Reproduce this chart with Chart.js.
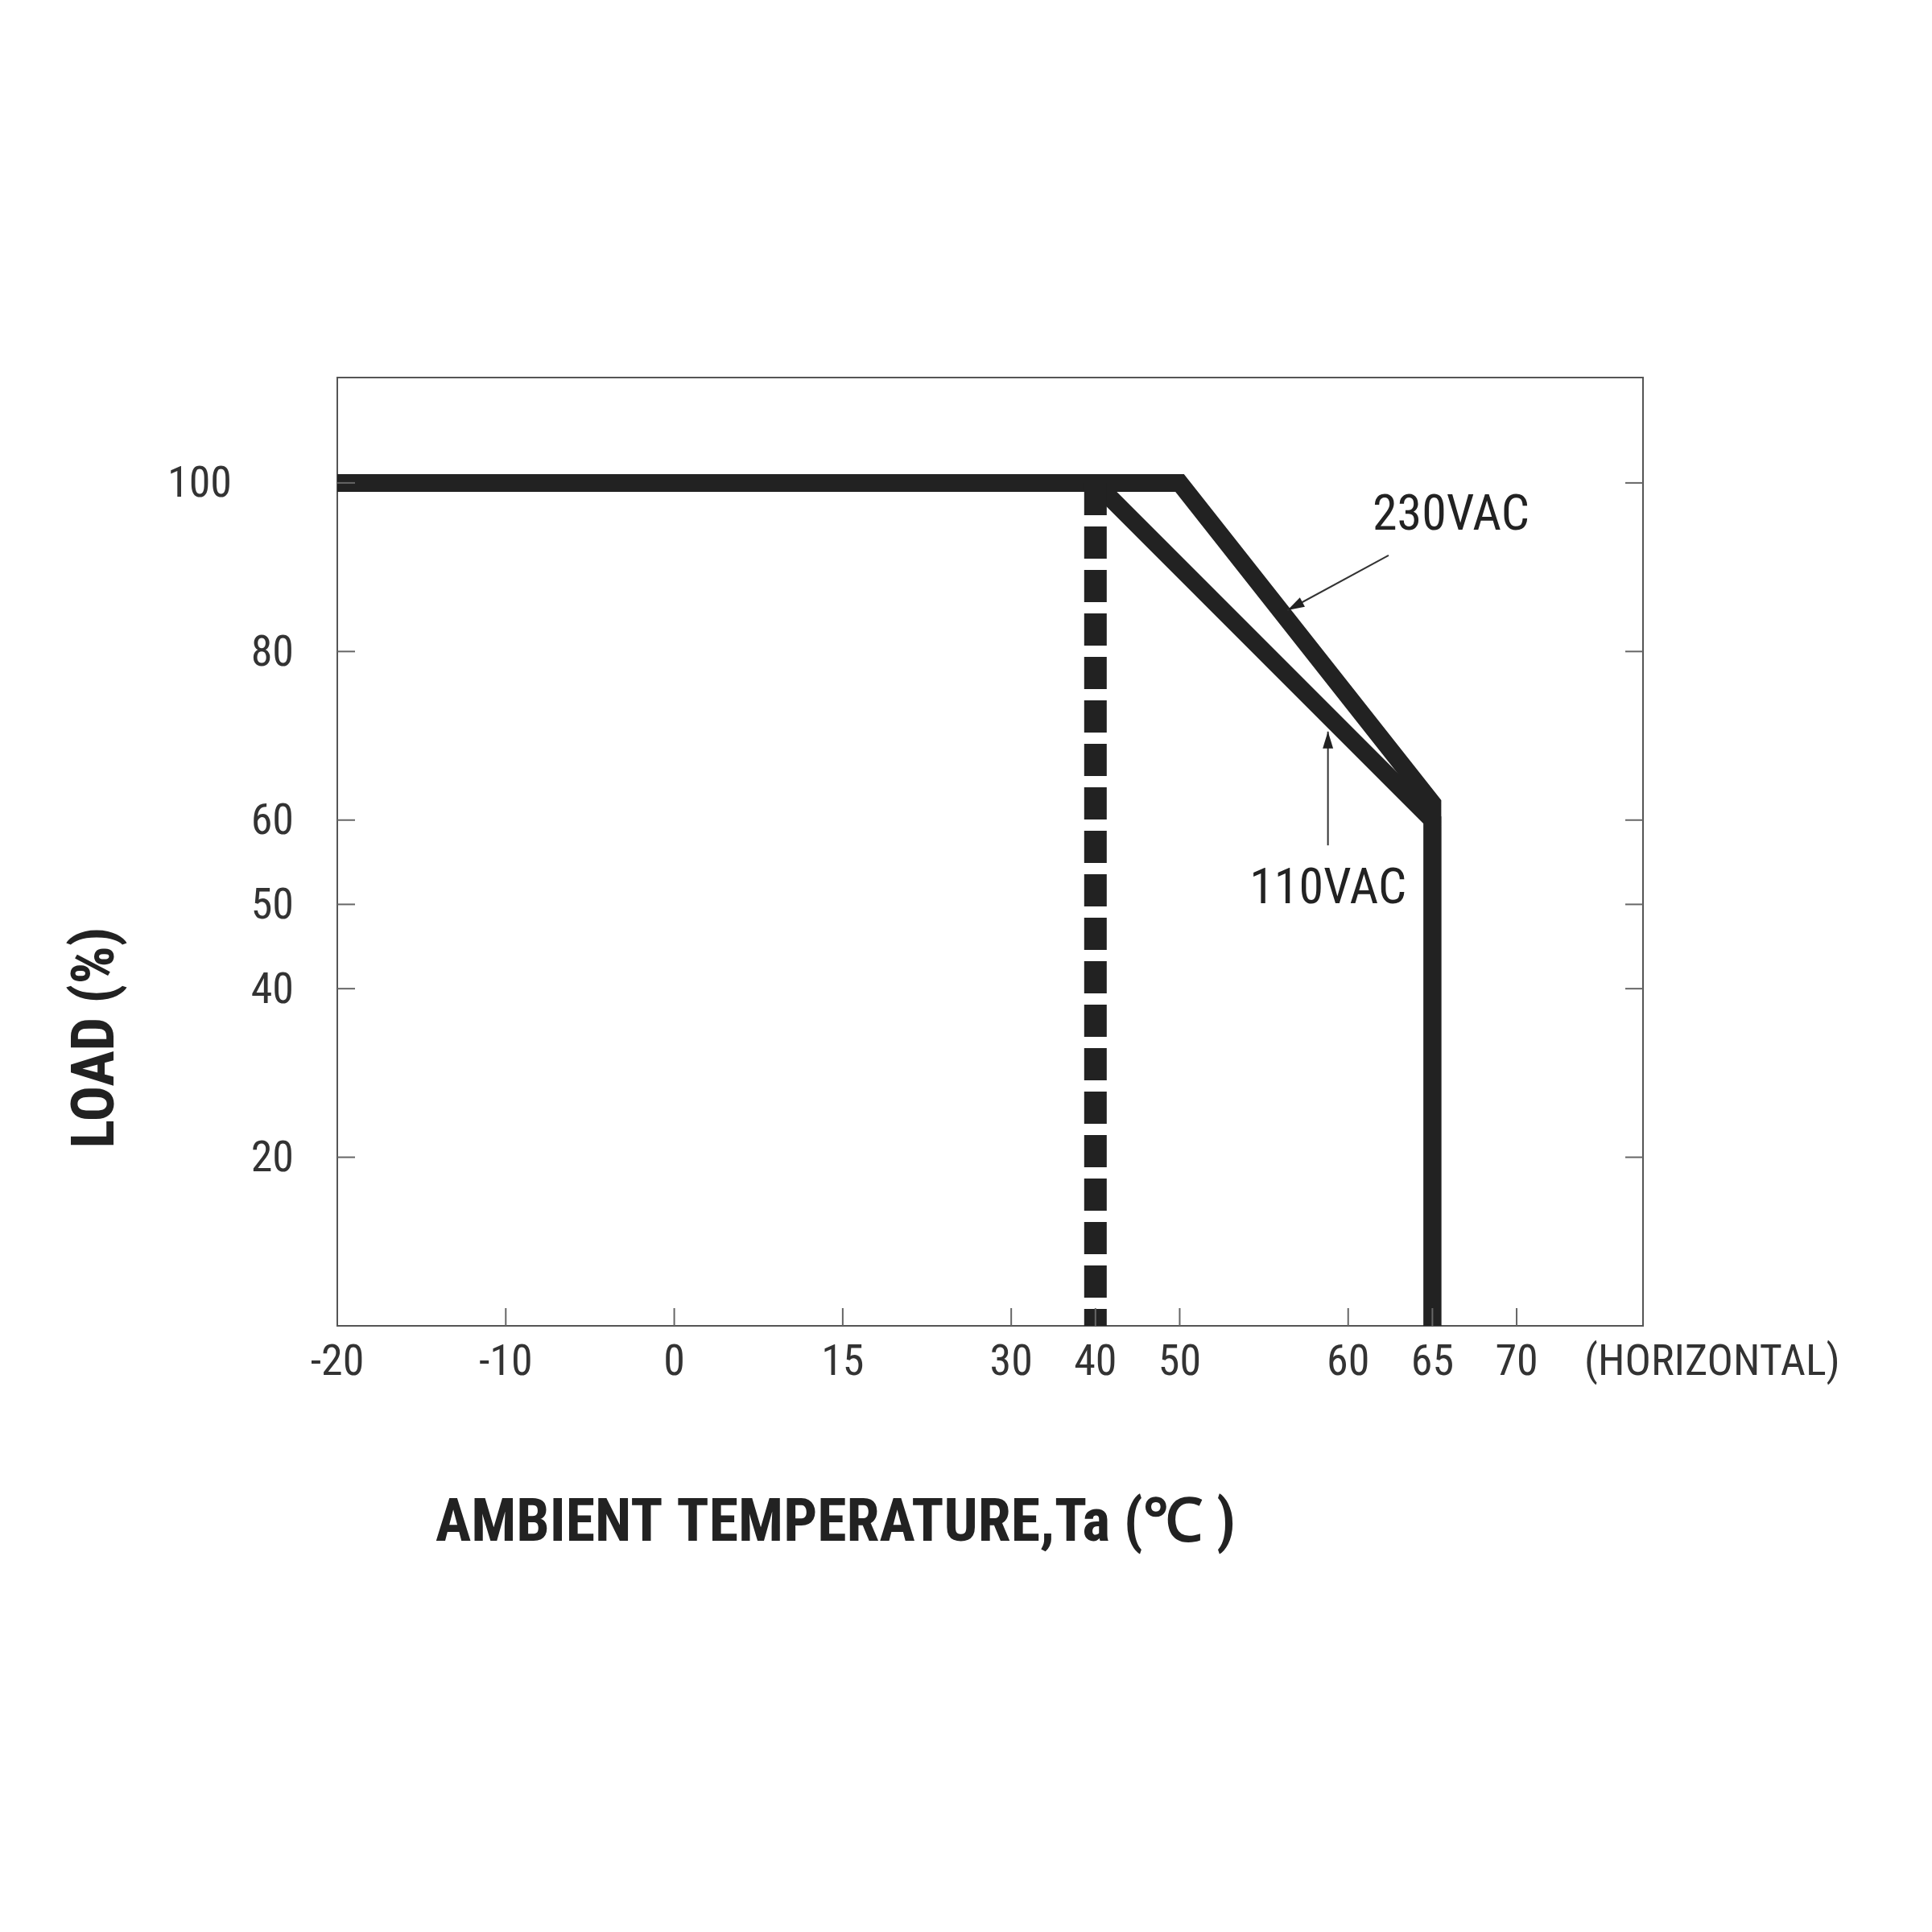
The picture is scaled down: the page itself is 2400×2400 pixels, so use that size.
<!DOCTYPE html>
<html>
<head>
<meta charset="utf-8">
<script src="https://cdn.jsdelivr.net/npm/chart.js@4/dist/chart.umd.min.js"></script>
<style>
  body { margin: 0; background: #fff; }
  #wrap { width: 2400px; height: 2400px; }
</style>
</head>
<body>
<div id="wrap"><canvas id="derating"></canvas></div>
<script>
// axis definition (the x axis is not to scale, ticks sit at fixed slots)
const xTicks = [-20, -10, 0, 15, 30, 40, 50, 60, 65, 70];
const xSlots = [0, 1, 2, 3, 4, 4.5, 5, 6, 6.5, 7];
const yTicks = [20, 40, 50, 60, 80, 100];

// curves: temperature (C) and load (%)
const t110 = [-20, 40, 65, 65];
const load110 = [100, 100, 60, 0];
const t230 = [40, 50, 65, 65];
const load230 = [100, 100, 62, 0];
const tLimit = [40, 40];
const loadLimit = [100, 0];

const FONT = '"Liberation Sans Narrow", "Roboto Condensed", Roboto, sans-serif';
const INK = "#222";

function toAxis(t) {
    for (let i = 0; i < xTicks.length - 1; i++) {
        if (t <= xTicks[i + 1]) {
            const f = (t - xTicks[i]) / (xTicks[i + 1] - xTicks[i]);
            return xSlots[i] + f * (xSlots[i + 1] - xSlots[i]);
        }
    }
    return xSlots[xSlots.length - 1];
}
function pts(ts, ys) {
    return ts.map((t, i) => ({ x: toAxis(t), y: ys[i] }));
}

const decor = {
    id: "decor",
    afterDraw(chart) {
        const { ctx, chartArea: a, scales: { x, y } } = chart;
        ctx.save();
        ctx.strokeStyle = "#666";
        ctx.lineWidth = 2;
        ctx.fillStyle = "#333";
        ctx.font = "54px " + FONT;
        // x ticks and labels
        ctx.textAlign = "center";
        ctx.textBaseline = "top";
        xTicks.forEach((t, i) => {
            const px = x.getPixelForValue(xSlots[i]);
            if (i > 0) {
                ctx.beginPath(); ctx.moveTo(px, a.bottom); ctx.lineTo(px, a.bottom - 22); ctx.stroke();
            }
            ctx.fillText(String(t), px, a.bottom + 20);
        });
        ctx.textAlign = "left";
        ctx.fillText("(HORIZONTAL)", 1968, a.bottom + 20);
        // y ticks and labels
        ctx.textAlign = "right";
        ctx.textBaseline = "middle";
        yTicks.forEach(v => {
            const py = y.getPixelForValue(v);
            ctx.beginPath(); ctx.moveTo(a.left, py); ctx.lineTo(a.left + 22, py); ctx.stroke();
            ctx.beginPath(); ctx.moveTo(a.right, py); ctx.lineTo(a.right - 22, py); ctx.stroke();
            ctx.fillText(String(v), v === 100 ? 288 : 365, py + 4);
        });
        // curve labels
        ctx.fillStyle = INK;
        ctx.font = "62px " + FONT;
        ctx.textAlign = "center";
        ctx.fillText("230VAC", x.getPixelForValue(6.61), y.getPixelForValue(95.9));
        ctx.fillText("110VAC", x.getPixelForValue(5.88), y.getPixelForValue(51.6));
        ctx.strokeStyle = "#333";
        ctx.lineWidth = 2;
        const arrow = (x1, y1, x2, y2) => {
            const ax = x.getPixelForValue(x1), ay = y.getPixelForValue(y1);
            const bx = x.getPixelForValue(x2), by = y.getPixelForValue(y2);
            ctx.beginPath(); ctx.moveTo(ax, ay); ctx.lineTo(bx, by); ctx.stroke();
            const ang = Math.atan2(by - ay, bx - ax);
            ctx.beginPath();
            ctx.moveTo(bx, by);
            ctx.lineTo(bx - 22 * Math.cos(ang - 0.3), by - 22 * Math.sin(ang - 0.3));
            ctx.lineTo(bx - 22 * Math.cos(ang + 0.3), by - 22 * Math.sin(ang + 0.3));
            ctx.closePath(); ctx.fill();
        };
        arrow(6.24, 91.4, 5.64, 84.9);
        arrow(5.88, 57, 5.88, 70.5);
        // axis titles
        ctx.font = "bold 74px " + FONT;
        ctx.textAlign = "center";
        ctx.fillText("AMBIENT TEMPERATURE,Ta (\u2103 )", 1038, 1895);
        ctx.translate(122, 1289);
        ctx.rotate(-Math.PI / 2);
        ctx.fillText("LOAD (%)", 0, 0);
        ctx.restore();
    }
};

const line = (data, width, dash) => ({
    data, borderColor: INK, borderWidth: width, borderDash: dash || [],
    pointRadius: 0, tension: 0, borderCapStyle: "butt", borderJoinStyle: "miter", fill: false
});

new Chart(document.getElementById("derating"), {
    type: "scatter",
    data: {
        datasets: [
            line(pts(tLimit, loadLimit), 28, [40, 14]),
            line(pts(t110, load110), 22),
            line(pts(t230, load230), 22)
        ].map(d => Object.assign(d, { showLine: true }))
    },
    options: {
        responsive: true,
        maintainAspectRatio: false,
        animation: false,
        layout: { padding: { left: 411, right: 351, top: 461, bottom: 745 } },
        plugins: { legend: { display: false }, tooltip: { enabled: false } },
        scales: {
            x: {
                type: "linear", min: 0, max: 7.75,
                ticks: { display: false }, grid: { display: false },
                border: { color: "#555", width: 2 }
            },
            y: {
                min: 0, max: 112.5,
                ticks: { display: false }, grid: { display: false },
                border: { color: "#555", width: 2 }
            },
            x2: {
                type: "linear", position: "top", min: 0, max: 7.75,
                ticks: { display: false }, grid: { display: false },
                border: { color: "#555", width: 2 }
            },
            y2: {
                position: "right", min: 0, max: 112.5,
                ticks: { display: false }, grid: { display: false },
                border: { color: "#555", width: 2 }
            }
        }
    },
    plugins: [decor]
});
</script>
</body>
</html>
